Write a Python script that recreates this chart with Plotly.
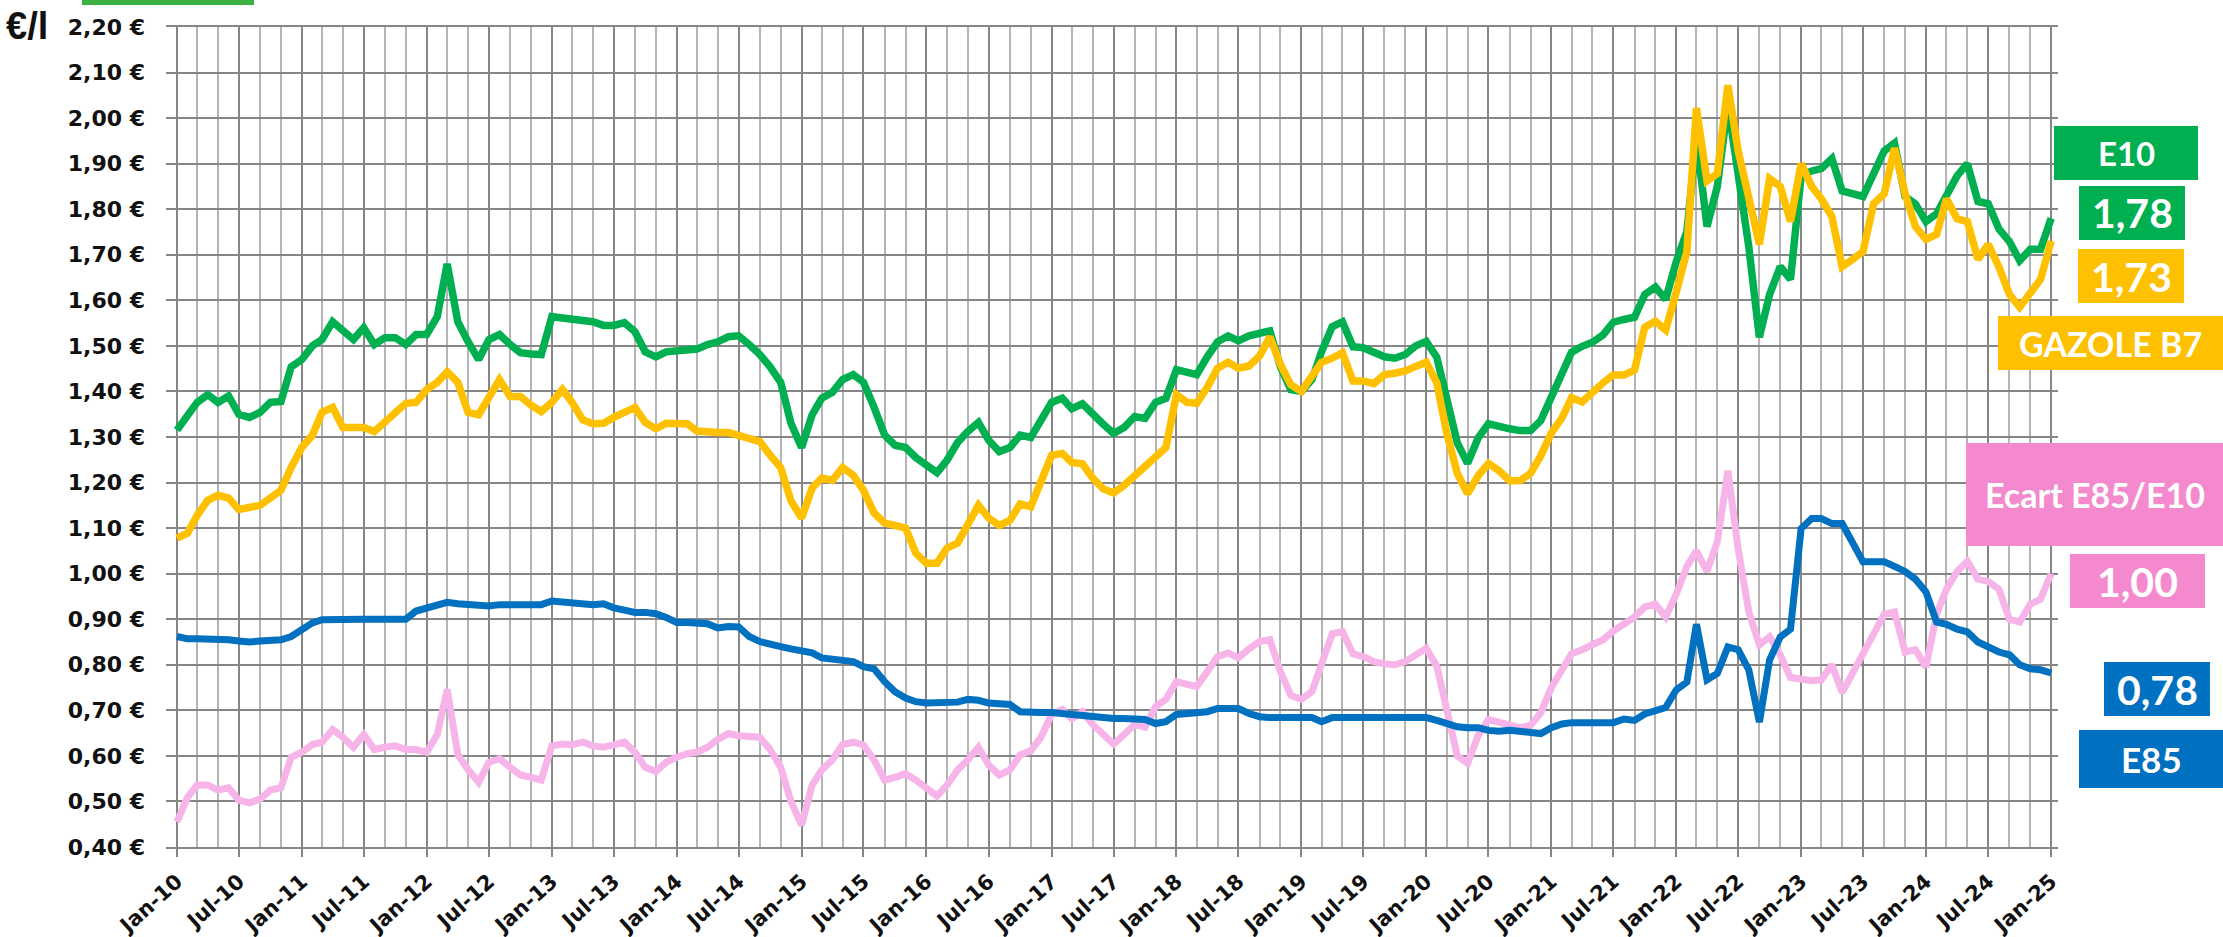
import pandas as pd
import plotly.graph_objects as go

# ---------------- data (monthly, Jan-2010 .. Jan-2025) ----------------
months = pd.date_range("2010-01-01", periods=181, freq="MS")

e10 = [1.315, 1.35, 1.376, 1.393, 1.376, 1.39, 1.35, 1.343, 1.354, 1.376, 1.378, 1.454,
       1.47, 1.50, 1.514, 1.553, 1.536, 1.514, 1.54, 1.503, 1.518, 1.518, 1.503, 1.525,
       1.525, 1.564, 1.68, 1.553, 1.509, 1.47, 1.514, 1.525, 1.503, 1.485, 1.482, 1.481,
       1.564, 1.562, 1.559, 1.559, 1.553, 1.545, 1.545, 1.551, 1.531, 1.487, 1.476, 1.487,
       1.49, 1.493, 1.493, 1.503, 1.509, 1.52, 1.522, 1.503, 1.481, 1.454, 1.42, 1.33,
       1.277, 1.349, 1.385, 1.398, 1.426, 1.437, 1.42, 1.365, 1.304, 1.282, 1.277, 1.255,
       1.24, 1.222, 1.249, 1.288, 1.312, 1.332, 1.293, 1.268, 1.277, 1.304, 1.299, 1.338,
       1.376, 1.385, 1.362, 1.373, 1.349, 1.328, 1.308, 1.321, 1.345, 1.341, 1.376, 1.385,
       1.448, 1.443, 1.437, 1.476, 1.509, 1.522, 1.511, 1.522, 1.529, 1.533, 1.454, 1.404,
       1.40, 1.426, 1.487, 1.542, 1.553, 1.498, 1.496, 1.485, 1.476, 1.473, 1.481, 1.50,
       1.51, 1.475, 1.381, 1.287, 1.242, 1.298, 1.329, 1.322, 1.318, 1.314, 1.314, 1.336,
       1.388, 1.441, 1.486, 1.499, 1.508, 1.524, 1.552, 1.558, 1.563, 1.613, 1.629, 1.602,
       1.685, 1.751, 1.956, 1.762, 1.85, 2.03, 1.884, 1.718, 1.519, 1.613, 1.674, 1.646,
       1.873, 1.884, 1.889, 1.911, 1.84, 1.834, 1.828, 1.878, 1.928, 1.945, 1.828, 1.812,
       1.773, 1.79, 1.834, 1.873, 1.90, 1.817, 1.812, 1.757, 1.729, 1.687, 1.712, 1.712,
       1.78]

gazole_b7 = [1.078, 1.089, 1.128, 1.161, 1.172, 1.166, 1.141, 1.144, 1.15, 1.166, 1.183, 1.233,
             1.277, 1.304, 1.354, 1.365, 1.321, 1.321, 1.321, 1.312, 1.332, 1.349, 1.374, 1.376,
             1.404, 1.42, 1.443, 1.42, 1.354, 1.349, 1.387, 1.426, 1.389, 1.389, 1.37, 1.356,
             1.376, 1.404, 1.376, 1.338, 1.329, 1.33, 1.343, 1.354, 1.365, 1.332, 1.318, 1.33,
             1.33, 1.329, 1.313, 1.31, 1.31, 1.31, 1.304, 1.299, 1.29, 1.26, 1.233, 1.16,
             1.122, 1.188, 1.21, 1.205, 1.233, 1.216, 1.183, 1.133, 1.111, 1.106, 1.10, 1.045,
             1.023, 1.023, 1.056, 1.067, 1.106, 1.15, 1.122, 1.106, 1.117, 1.153, 1.147, 1.199,
             1.26, 1.264, 1.244, 1.241, 1.21, 1.186, 1.177, 1.194, 1.216, 1.233, 1.26, 1.277,
             1.393, 1.376, 1.374, 1.409, 1.451, 1.464, 1.451, 1.456, 1.478, 1.52, 1.459, 1.415,
             1.40, 1.431, 1.464, 1.473, 1.485, 1.423, 1.423, 1.417, 1.437, 1.44, 1.445, 1.455,
             1.464, 1.419, 1.309, 1.22, 1.176, 1.215, 1.242, 1.226, 1.204, 1.204, 1.22, 1.259,
             1.309, 1.342, 1.386, 1.377, 1.40, 1.419, 1.436, 1.436, 1.447, 1.541, 1.554, 1.535,
             1.618, 1.707, 2.022, 1.862, 1.878, 2.072, 1.928, 1.828, 1.723, 1.867, 1.85, 1.773,
             1.90, 1.85, 1.823, 1.784, 1.674, 1.69, 1.707, 1.812, 1.834, 1.934, 1.834, 1.762,
             1.734, 1.745, 1.823, 1.779, 1.773, 1.69, 1.723, 1.674, 1.613, 1.585, 1.613, 1.646,
             1.73]

e85 = [0.862, 0.857, 0.857, 0.857, 0.857, 0.855, 0.852, 0.85, 0.852, 0.855, 0.855, 0.862,
       0.879, 0.892, 0.899, 0.90, 0.90, 0.90, 0.90, 0.90, 0.90, 0.90, 0.90, 0.918,
       0.925, 0.932, 0.937, 0.934, 0.932, 0.931, 0.929, 0.932, 0.932, 0.932, 0.932, 0.932,
       0.94, 0.937, 0.936, 0.932, 0.932, 0.934, 0.925, 0.92, 0.915, 0.915, 0.912, 0.904,
       0.893, 0.893, 0.893, 0.89, 0.881, 0.884, 0.883, 0.862, 0.851, 0.844, 0.84, 0.835,
       0.829, 0.826, 0.815, 0.813, 0.81, 0.807, 0.796, 0.791, 0.763, 0.741, 0.727, 0.719,
       0.716, 0.716, 0.716, 0.718, 0.724, 0.722, 0.716, 0.716, 0.713, 0.697, 0.695, 0.695,
       0.695, 0.693, 0.691, 0.686, 0.686, 0.684, 0.682, 0.682, 0.682, 0.68, 0.671, 0.675,
       0.691, 0.693, 0.693, 0.697, 0.704, 0.705, 0.704, 0.693, 0.686, 0.684, 0.684, 0.684,
       0.684, 0.684, 0.675, 0.684, 0.684, 0.684, 0.684, 0.684, 0.684, 0.684, 0.684, 0.684,
       0.684, 0.678, 0.67, 0.664, 0.662, 0.662, 0.656, 0.654, 0.656, 0.654, 0.654, 0.649,
       0.662, 0.67, 0.673, 0.673, 0.673, 0.673, 0.673, 0.681, 0.678, 0.692, 0.70, 0.706,
       0.745, 0.762, 0.889, 0.767, 0.781, 0.839, 0.833, 0.789, 0.674, 0.811, 0.861, 0.878,
       1.099, 1.121, 1.121, 1.11, 1.11, 1.071, 1.026, 1.026, 1.026, 1.016, 1.005, 0.988,
       0.96, 0.894, 0.889, 0.878, 0.872, 0.85, 0.839, 0.828, 0.822, 0.80, 0.791, 0.789,
       0.782]

ecart_e85_e10 = [0.455, 0.509, 0.536, 0.536, 0.525, 0.53, 0.503, 0.497, 0.505, 0.525, 0.53, 0.597,
                 0.608, 0.625, 0.63, 0.658, 0.641, 0.619, 0.647, 0.614, 0.619, 0.622, 0.614, 0.614,
                 0.608, 0.647, 0.746, 0.603, 0.57, 0.542, 0.586, 0.594, 0.575, 0.558, 0.553, 0.547,
                 0.622, 0.626, 0.624, 0.63, 0.622, 0.619, 0.624, 0.63, 0.608, 0.575, 0.566, 0.586,
                 0.597, 0.605, 0.608, 0.619, 0.636, 0.649, 0.644, 0.641, 0.641, 0.614, 0.575, 0.50,
                 0.448, 0.536, 0.569, 0.591, 0.625, 0.63, 0.624, 0.591, 0.547, 0.553, 0.561, 0.547,
                 0.53, 0.512, 0.536, 0.569, 0.591, 0.619, 0.58, 0.558, 0.569, 0.602, 0.611, 0.641,
                 0.691, 0.702, 0.682, 0.697, 0.669, 0.645, 0.626, 0.647, 0.669, 0.663, 0.708, 0.724,
                 0.763, 0.757, 0.752, 0.785, 0.818, 0.826, 0.815, 0.835, 0.851, 0.855, 0.785, 0.733,
                 0.724, 0.741, 0.807, 0.868, 0.873, 0.824, 0.818, 0.807, 0.802, 0.80, 0.807, 0.822,
                 0.836, 0.797, 0.70, 0.60, 0.584, 0.645, 0.68, 0.673, 0.667, 0.662, 0.667, 0.695,
                 0.75, 0.789, 0.824, 0.833, 0.844, 0.855, 0.874, 0.89, 0.905, 0.927, 0.933, 0.905,
                 0.955, 1.016, 1.05, 1.005, 1.07, 1.226, 1.054, 0.916, 0.844, 0.861, 0.822, 0.772,
                 0.767, 0.765, 0.767, 0.80, 0.739, 0.784, 0.828, 0.872, 0.911, 0.916, 0.828, 0.833,
                 0.795, 0.911, 0.966, 1.005, 1.027, 0.988, 0.983, 0.966, 0.90, 0.894, 0.933, 0.944,
                 1.00]

y_ticks = [0.40, 0.50, 0.60, 0.70, 0.80, 0.90, 1.00, 1.10, 1.20, 1.30, 1.40,
           1.50, 1.60, 1.70, 1.80, 1.90, 2.00, 2.10, 2.20]
y_tick_labels = [f"{v:.2f}".replace(".", ",") + " €" for v in y_ticks]

last_labels = {"E10": "1,78", "GAZOLE B7": "1,73", "Ecart E85/E10": "1,00", "E85": "0,78"}

# ---------------- colours ----------------
C_GREEN = "#00B050"
C_ORANGE = "#FFC000"
C_BLUE = "#0070C0"
C_PINK_LINE = "#F6B4E9"
C_PINK_BOX = "#F48ACD"

# ---------------- layout geometry (pixels) ----------------
W, H = 2223, 937
PL, PR, PT, PB = 166, 2058, 27, 847   # plot area edges


def px(x):
    return (x - PL) / (PR - PL)


def py(y):
    return (PB - y) / (PB - PT)


fig = go.Figure()
fig.add_trace(go.Scatter(x=months, y=ecart_e85_e10, mode="lines", name="Ecart E85/E10",
                         line=dict(color=C_PINK_LINE, width=7)))
fig.add_trace(go.Scatter(x=months, y=e85, mode="lines", name="E85",
                         line=dict(color=C_BLUE, width=7)))
fig.add_trace(go.Scatter(x=months, y=e10, mode="lines", name="E10",
                         line=dict(color=C_GREEN, width=7.5)))
fig.add_trace(go.Scatter(x=months, y=gazole_b7, mode="lines", name="GAZOLE B7",
                         line=dict(color=C_ORANGE, width=7.5)))

fig.update_layout(
    width=W, height=H,
    margin=dict(l=PL, r=W - PR, t=PT, b=H - PB, pad=0),
    paper_bgcolor="white", plot_bgcolor="white",
    showlegend=False,
    xaxis=dict(
        type="date",
        range=["2009-11-30", "2025-01-21"],
        tick0="2010-01-01", dtick="M6", tickformat="%b-%y",
        tickangle=-42,
        automargin=False,
        showgrid=True, gridcolor="#868686", gridwidth=2,
        minor=dict(dtick="M2", tick0="2010-01-01", showgrid=True,
                   gridcolor="#b5b5b5", gridwidth=1.6),
        ticks="outside", ticklen=8, tickcolor="#868686", tickwidth=2,
        showline=True, linecolor="#868686", linewidth=2, mirror=True,
        zeroline=False,
        ticklabelstandoff=4,
        tickfont=dict(family="DejaVu Sans", size=21, color="#111111", weight="bold"),
    ),
    yaxis=dict(
        range=[0.40, 2.20],
        tickvals=y_ticks, ticktext=y_tick_labels,
        automargin=False,
        showgrid=True, gridcolor="#868686", gridwidth=1.6,
        zeroline=False, showline=False, ticks="",
        ticklabelstandoff=20,
        tickfont=dict(family="DejaVu Sans", size=22, color="#111111", weight="bold"),
    ),
)

shapes = []
annotations = []

# unit label and small green bar at top-left
annotations.append(dict(xref="paper", yref="paper", x=px(4), y=py(26),
                        xanchor="left", yanchor="middle", showarrow=False,
                        text="€/l", font=dict(family="Liberation Sans", size=38,
                                              color="#111111", weight="bold")))
shapes.append(dict(type="rect", xref="paper", yref="paper",
                   x0=px(82), x1=px(254), y0=py(5), y1=py(-2),
                   fillcolor="#3BB143", line=dict(width=0)))

# right-side value / name boxes (x0, x1, y0, y1, colour, text, font size)
boxes = [
    (2054, 2198, 126, 180, C_GREEN, "E10", 33),
    (2079, 2185, 186, 240, C_GREEN, last_labels["E10"], 41),
    (2078, 2184, 249, 303, C_ORANGE, last_labels["GAZOLE B7"], 41),
    (1998, 2223, 316, 370, C_ORANGE, "GAZOLE B7", 34),
    (1966, 2223, 443, 546, C_PINK_BOX, "Ecart E85/E10", 34),
    (2070, 2205, 554, 608, C_PINK_BOX, last_labels["Ecart E85/E10"], 41),
    (2104, 2210, 662, 716, C_BLUE, last_labels["E85"], 41),
    (2079, 2223, 730, 788, C_BLUE, "E85", 35),
]
for x0, x1, y0, y1, col, txt, fs in boxes:
    shapes.append(dict(type="rect", xref="paper", yref="paper",
                       x0=px(x0), x1=px(x1), y0=py(y1), y1=py(y0),
                       fillcolor=col, line=dict(width=0), layer="above"))
    annotations.append(dict(xref="paper", yref="paper",
                            x=px((x0 + x1) / 2), y=py((y0 + y1) / 2),
                            xanchor="center", yanchor="middle", showarrow=False,
                            text=txt, font=dict(family="Lato", size=fs,
                                                color="white", weight="bold")))

fig.update_layout(shapes=shapes, annotations=annotations)

fig.write_html("out.html",
               config={"displayModeBar": False},
               post_script="document.body.style.margin='0';document.body.style.overflow='hidden';")
